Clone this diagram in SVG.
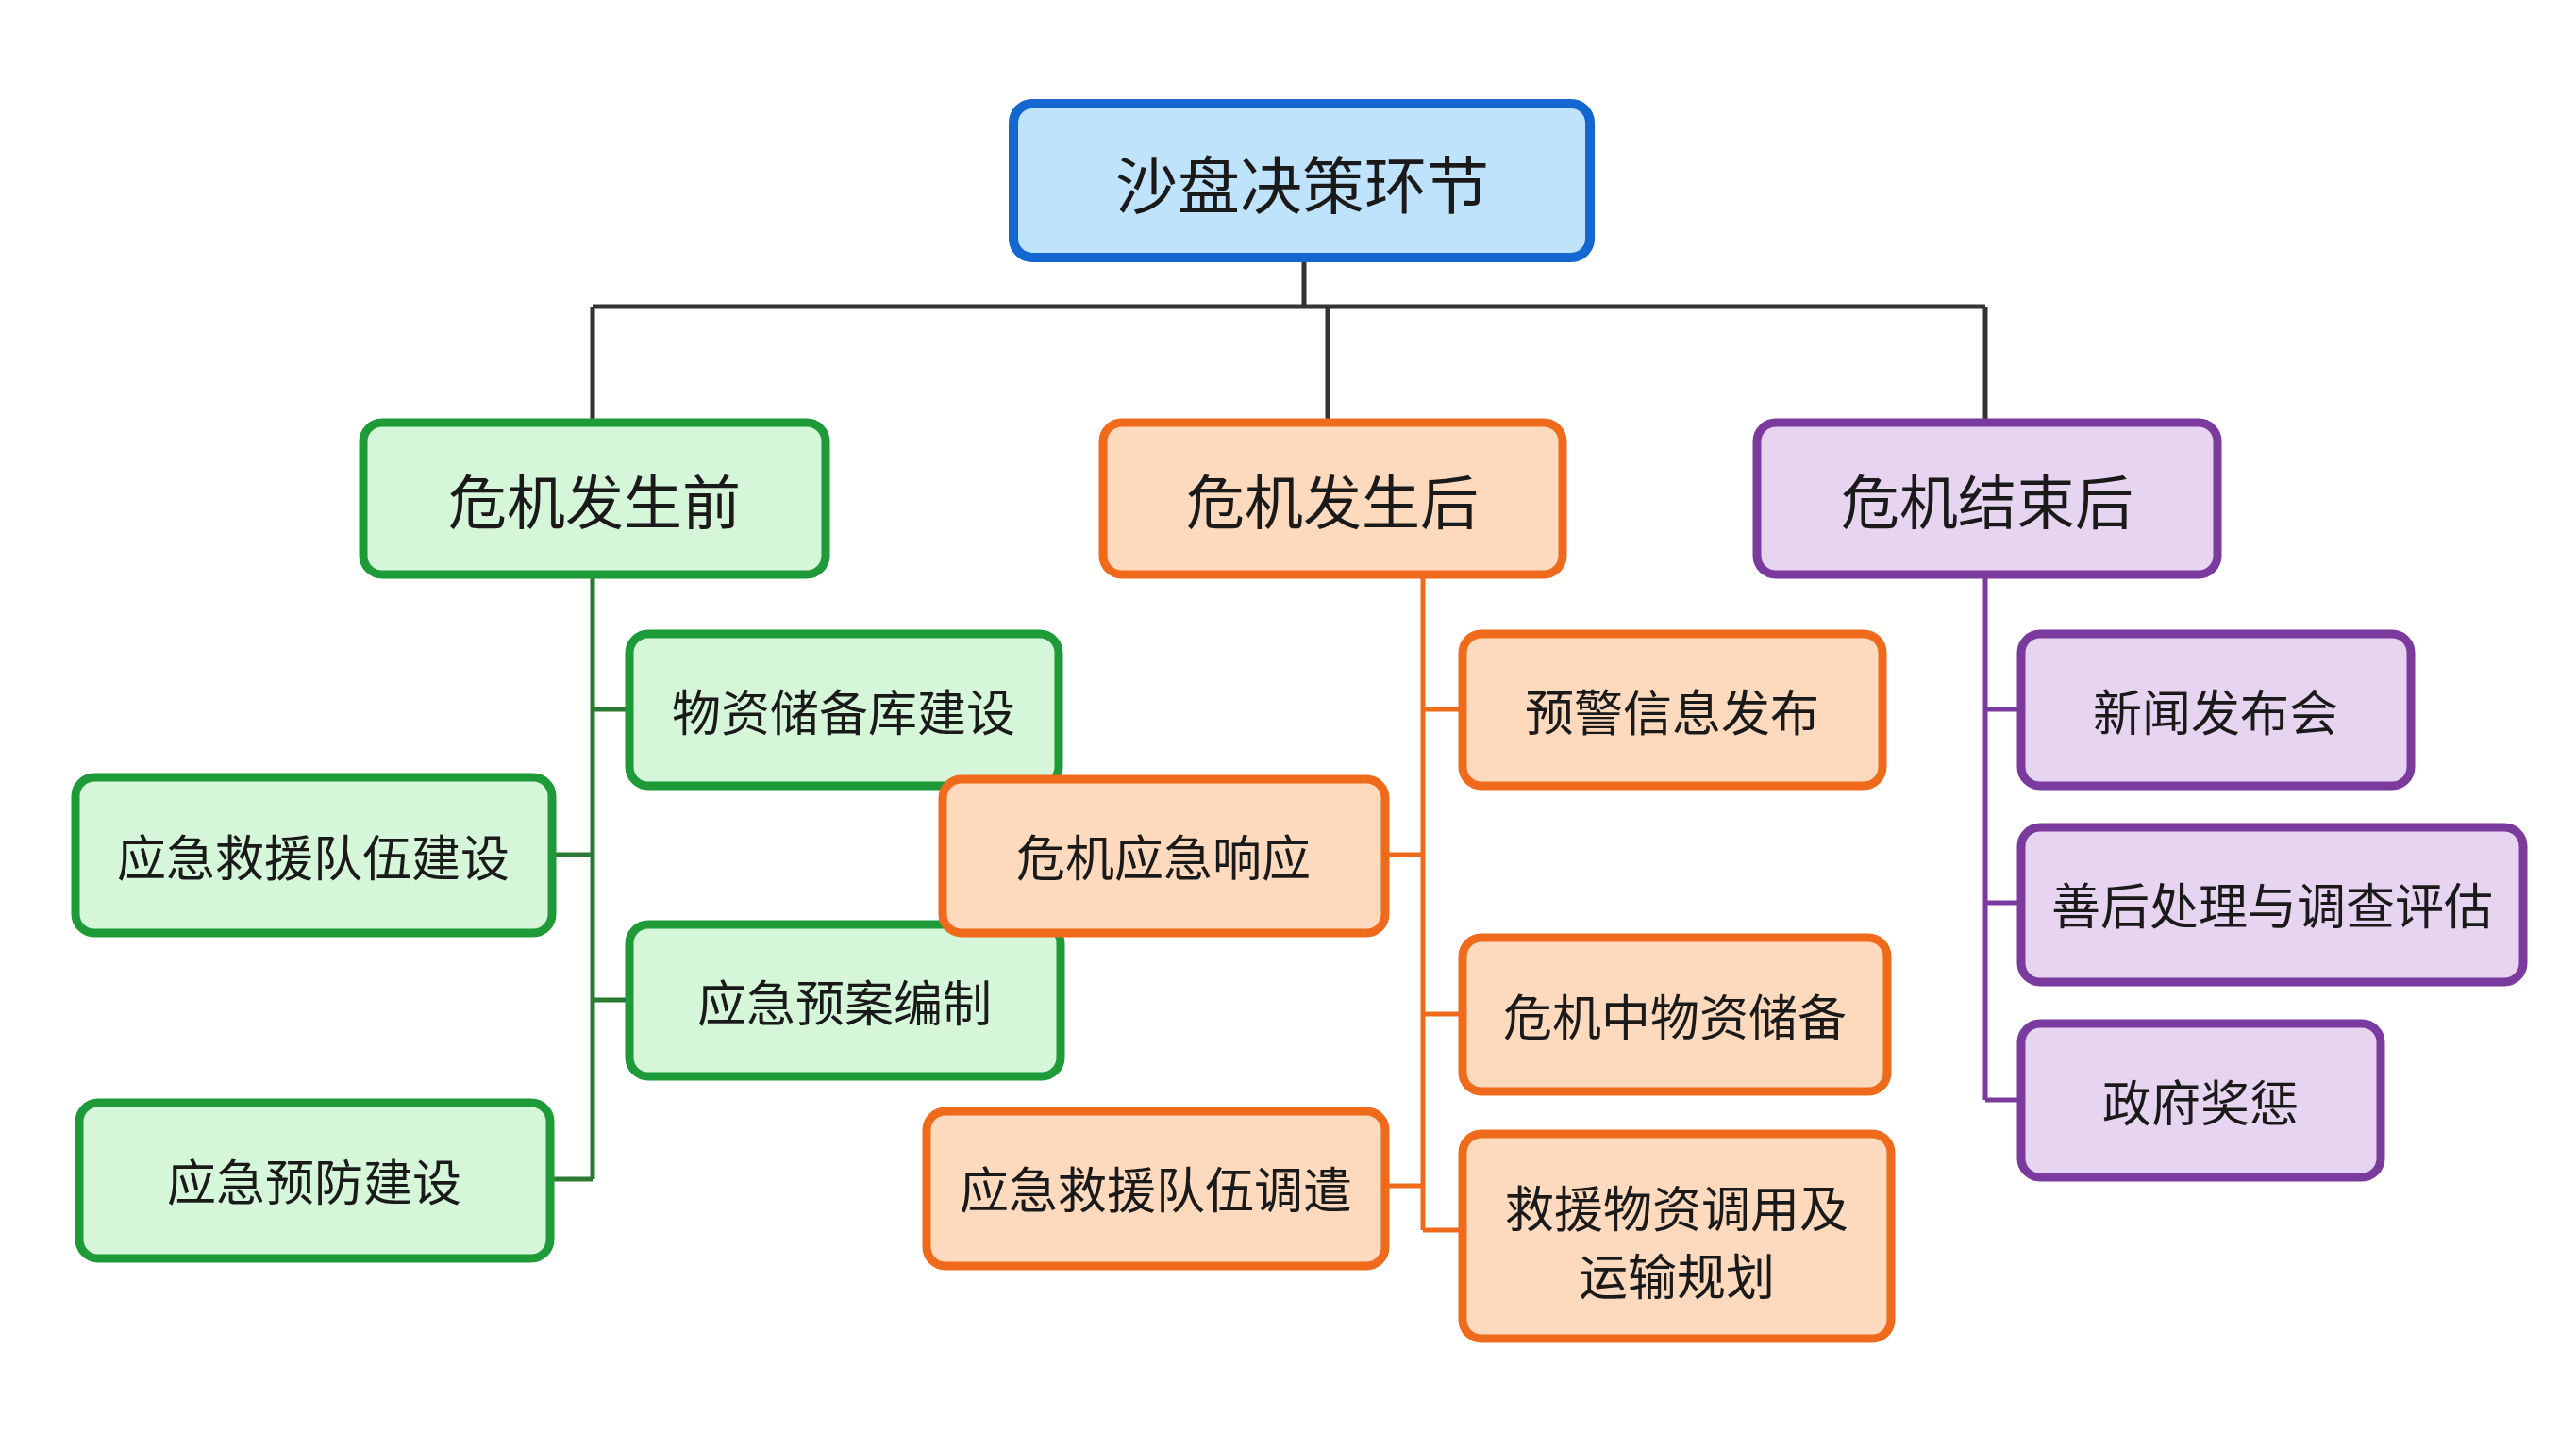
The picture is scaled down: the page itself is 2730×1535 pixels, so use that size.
<svg xmlns="http://www.w3.org/2000/svg" width="2730" height="1535" viewBox="0 0 2730 1535">
<style>
text{font-family:"Noto Sans CJK SC","Noto Sans",sans-serif;text-anchor:middle;dominant-baseline:central;fill:#1a1a1a}
.root rect{fill:#bfe3fb;stroke:#1467d0;stroke-width:10}
.g rect{fill:#d6f6da;stroke:#1f9a38;stroke-width:9}
.o rect{fill:#fdd9bd;stroke:#f06a1c;stroke-width:9}
.p rect{fill:#e7d4f0;stroke:#7a3a9e;stroke-width:9}
.l1 text{font-size:62px}
.l2 text{font-size:52px}
#connectors path{fill:none;stroke-width:5}
</style>
<rect width="2730" height="1535" fill="#fff"/>
<g id="connectors">
<path d="M1382 273V325M628 325H2104M628 325V448M1407 325V448M2104 325V448" stroke="#333"/>
<path d="M628 609V1250M628 752H667M585 906H628M628 1060H667M583 1250H628" stroke="#2b7a34"/>
<path d="M1508 609V1304M1508 752H1550M1468 906H1508M1508 1075H1550M1468 1257H1508M1508 1304H1550" stroke="#f06a1c"/>
<path d="M2104 609V1166M2104 752H2142M2104 957H2142M2104 1166H2142" stroke="#7a3a9e"/>
</g>
<g id="root" class="root"><rect x="1074" y="110" width="611" height="163" rx="20"/><text x="1380" y="192" font-size="66">沙盘决策环节</text></g>
<g id="before" class="g l1"><rect x="385" y="448" width="490" height="161" rx="20"/><text x="630" y="529">危机发生前</text></g>
<g id="after" class="o l1"><rect x="1169" y="448" width="487" height="161" rx="20"/><text x="1412" y="529">危机发生后</text></g>
<g id="end" class="p l1"><rect x="1862" y="448" width="488" height="161" rx="20"/><text x="2106" y="529">危机结束后</text></g>
<g id="g1" class="g l2"><rect x="667" y="672" width="455" height="161" rx="20"/><text x="894" y="752">物资储备库建设</text></g>
<g id="g2" class="g l2"><rect x="80" y="824" width="505" height="165" rx="20"/><text x="332" y="906">应急救援队伍建设</text></g>
<g id="g3" class="g l2"><rect x="667" y="980" width="457" height="161" rx="20"/><text x="895" y="1060">应急预案编制</text></g>
<g id="g4" class="g l2"><rect x="84" y="1169" width="499" height="165" rx="20"/><text x="333" y="1250">应急预防建设</text></g>
<g id="o1" class="o l2"><rect x="1550" y="672" width="445" height="161" rx="20"/><text x="1772" y="752">预警信息发布</text></g>
<g id="o2" class="o l2"><rect x="999" y="826" width="469" height="163" rx="20"/><text x="1233" y="906">危机应急响应</text></g>
<g id="o3" class="o l2"><rect x="1550" y="994" width="450" height="163" rx="20"/><text x="1775" y="1075">危机中物资储备</text></g>
<g id="o4" class="o l2"><rect x="982" y="1178" width="486" height="164" rx="20"/><text x="1225" y="1258">应急救援队伍调遣</text></g>
<g id="o5" class="o l2"><rect x="1550" y="1202" width="454" height="217" rx="20"/><text x="1777" y="1278">救援物资调用及</text><text x="1777" y="1350">运输规划</text></g>
<g id="p1" class="p l2"><rect x="2142" y="672" width="413" height="161" rx="20"/><text x="2348" y="752">新闻发布会</text></g>
<g id="p2" class="p l2"><rect x="2142" y="877" width="532" height="164" rx="20"/><text x="2408" y="957">善后处理与调查评估</text></g>
<g id="p3" class="p l2"><rect x="2142" y="1085" width="381" height="163" rx="20"/><text x="2332" y="1166">政府奖惩</text></g>
</svg>
